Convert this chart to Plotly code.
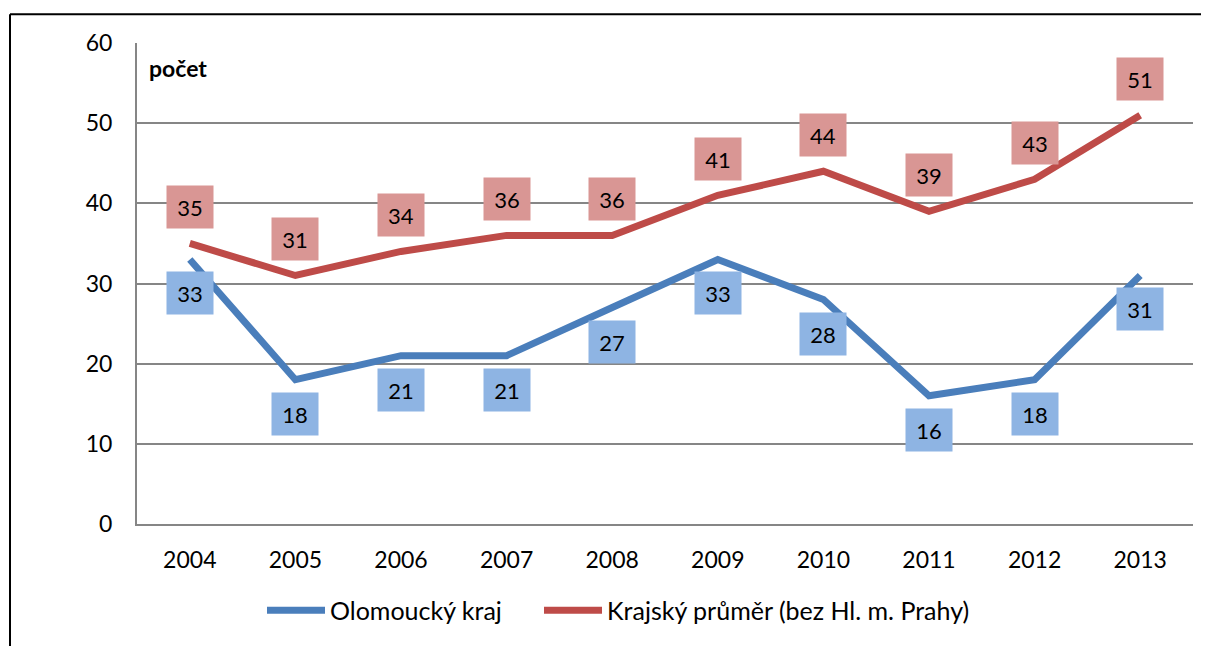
import plotly.graph_objects as go

years = ["2004", "2005", "2006", "2007", "2008", "2009", "2010", "2011", "2012", "2013"]
olomoucky = [33, 18, 21, 21, 27, 33, 28, 16, 18, 31]
krajsky = [35, 31, 34, 36, 36, 41, 44, 39, 43, 51]
names = ["Olomoucký kraj", "Krajský průměr (bez Hl. m. Prahy)"]
y_ticks = [0, 10, 20, 30, 40, 50, 60]

OFF = 8  # page body margin
W, H = 1209 - OFF, 646 - OFF
ML, MR, MT, MB = 137 - OFF, 16, 43 - OFF, 119
PW, PH = W - ML - MR, H - MT - MB

FONT = "Lato"
BLUE, RED = "#4A7EBB", "#BE4B48"
BLUE_BOX, RED_BOX = "#8EB4E3", "#D99694"

fig = go.Figure()
fig.add_trace(go.Scatter(x=years, y=olomoucky, name=names[0], mode="lines",
                         line=dict(color=BLUE, width=7), legend="legend"))
fig.add_trace(go.Scatter(x=years, y=krajsky, name=names[1], mode="lines",
                         line=dict(color=RED, width=7), legend="legend2"))

ann = []
for i, v in enumerate(olomoucky):
    ann.append(dict(x=i, y=v, xref="x", yref="y", text=str(v), showarrow=False,
                    yshift=-34, width=44, height=40, bgcolor=BLUE_BOX,
                    font=dict(family=FONT, size=22, color="black")))
for i, v in enumerate(krajsky):
    ann.append(dict(x=i, y=v, xref="x", yref="y", text=str(v), showarrow=False,
                    yshift=36, width=44, height=40, bgcolor=RED_BOX,
                    font=dict(family=FONT, size=22, color="black")))
ann.append(dict(x=(147 - OFF - ML) / PW, y=1 - (68 - OFF - MT) / PH, xref="paper", yref="paper",
                text="<b>počet</b>", showarrow=False, xanchor="left", yanchor="middle",
                font=dict(family=FONT, size=23, color="black")))

# outer frame (top and left edges visible)
fx = (10 - OFF - ML) / PW
fy = 1 + (MT - (14 - OFF)) / PH
shapes = [
    dict(type="line", xref="paper", yref="paper", x0=fx, x1=1 + (MR + 10) / PW, y0=fy, y1=fy,
         line=dict(color="black", width=2)),
    dict(type="line", xref="paper", yref="paper", x0=fx, x1=fx, y0=fy, y1=-(MB + 10) / PH,
         line=dict(color="black", width=2)),
]

leg_common = dict(orientation="h", xanchor="left", y=-(614 - 527) / PH, yanchor="middle",
                  font=dict(family=FONT, size=25), itemwidth=58, bgcolor="rgba(0,0,0,0)")

fig.update_layout(
    width=W, height=H,
    margin=dict(l=ML, r=MR, t=MT, b=MB),
    paper_bgcolor="white", plot_bgcolor="white",
    font=dict(family=FONT, size=23, color="black"),
    showlegend=True,
    legend=dict(x=(262 - OFF - ML) / PW, **leg_common),
    legend2=dict(x=(539 - OFF - ML) / PW, **leg_common),
    annotations=ann, shapes=shapes,
    xaxis=dict(type="category", range=[-0.5, 9.5], showgrid=False, showline=True,
               linecolor="#868686", linewidth=2, ticks="", ticklabelstandoff=14,
               tickfont=dict(family=FONT, size=23)),
    yaxis=dict(range=[0, 60], tickvals=y_ticks, showgrid=True, gridcolor="#868686",
               gridwidth=2, showline=True, linecolor="#868686", linewidth=2, ticks="",
               ticklabelstandoff=18, zeroline=False, tickfont=dict(family=FONT, size=23)),
)

fig.write_html("out.html")
